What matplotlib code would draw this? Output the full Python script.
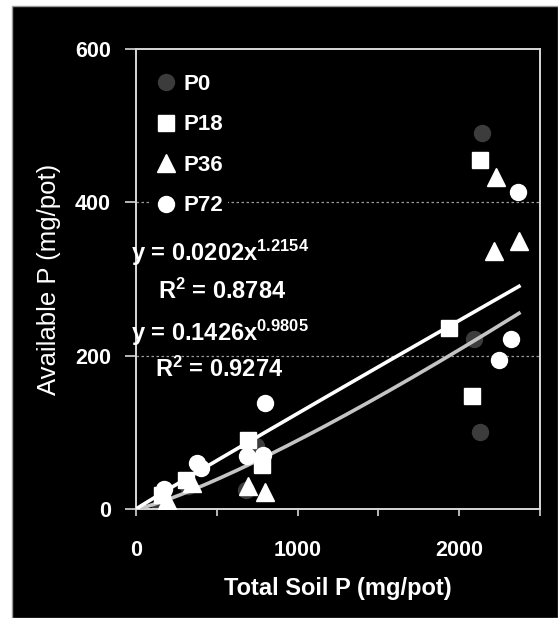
import matplotlib
matplotlib.use('Agg')

import matplotlib.pyplot as plt
import numpy as np
from matplotlib.patches import Rectangle

plt.rcParams['font.family'] = ['Liberation Sans', 'DejaVu Sans']
plt.rcParams['mathtext.default'] = 'regular'

# total soil P vs available P, per treatment
p0_x = [150, 320, 680, 745, 2089, 2140, 2130]
p0_y = [3, 30, 25, 82, 222, 491, 100]
p18_x = [160, 310, 695, 778, 1938, 2130, 2080]
p18_y = [18, 38, 90, 58, 236, 455, 148]
p36_x = [190, 345, 690, 800, 2227, 2217, 2370]
p36_y = [12, 34, 30, 22, 433, 336, 350]
p72_x = [172, 376, 405, 685, 787, 797, 2246, 2322, 2363]
p72_y = [26, 60, 54, 69, 71, 138, 194, 222, 413]

# power trendlines y = a * x^b
fit_a = [0.0202, 0.1426]
fit_b = [1.2154, 0.9805]
fit_r2 = [0.8784, 0.9274]
fit_colors = ['#c4c4c4', 'white']

fig = plt.figure(figsize=(5.58, 6.18), dpi=100, facecolor='white')
fig.patches.append(Rectangle((12 / 558, 0), 1 - 12 / 558, 1 - 6 / 618,
                             transform=fig.transFigure, facecolor='black',
                             edgecolor='#9a9a9a', linewidth=1, zorder=-10))

ax = fig.add_axes([136 / 558, 1 - 509 / 618, 404 / 558, 460 / 618])
ax.set_facecolor('black')

xmax = max(p0_x + p18_x + p36_x + p72_x)
xs = np.linspace(0, xmax, 200)
for a, b, c in zip(fit_a, fit_b, fit_colors):
    ax.plot(xs, a * xs ** b, color=c, linewidth=2.6, zorder=3)

ms = 11.5
ax.plot(p0_x, p0_y, 'o', color='#3c3c3c', markersize=ms, label='P0', zorder=2)
ax.plot(p18_x, p18_y, 's', color='white', markersize=ms - 0.5, label='P18', zorder=4)
ax.plot(p36_x, p36_y, '^', color='white', markersize=ms + 1, label='P36', zorder=4)
ax.plot(p72_x, p72_y, 'o', color='white', markersize=ms, label='P72', zorder=4)

ax.set_xlim(0, 2500)
ax.set_ylim(0, 600)
ax.set_xticks([0, 1000, 2000])
ax.set_xticks([500, 1500, 2500], minor=True)
ax.set_yticks([0, 200, 400, 600])
for y in [200, 400]:
    ax.axhline(y, color='#9a9a9a', linestyle=(0, (2, 2)), linewidth=0.9, zorder=1)

for s in ax.spines.values():
    s.set_color('#d8d8d8')
    s.set_linewidth(1.4)

ax.tick_params(axis='x', which='both', direction='out', length=5, width=1.2,
               color='#d8d8d8', pad=17)
ax.tick_params(axis='y', direction='out', length=8, width=1.2,
               color='#d8d8d8', pad=10)
for lab in ax.get_xticklabels() + ax.get_yticklabels():
    lab.set_color('white')
    lab.set_fontsize(15.5)
    lab.set_fontweight('bold')

ax.set_xlabel('Total Soil P (mg/pot)', color='white', fontsize=17,
              fontweight='bold', labelpad=12)
ax.set_ylabel('Available P (mg/pot)', color='white', fontsize=18.5, labelpad=10)

leg = ax.legend(loc='upper left', bbox_to_anchor=(0.01, 0.98), frameon=True,
                facecolor='black', edgecolor='none', framealpha=1,
                labelspacing=0.88, handlelength=0.9, handletextpad=0.35,
                borderpad=0.2, fontsize=16, labelcolor='white')
for t in leg.get_texts():
    t.set_fontweight('bold')

eq_style = dict(color='white', fontsize=17, fontweight='bold', va='center', zorder=5)
ax.text(-0.012, 0.557, 'y = %.4fx$^{%.4f}$' % (fit_a[0], fit_b[0]),
        transform=ax.transAxes, **eq_style)
ax.text(0.055, 0.474, 'R$^{2}$ = %.4f' % fit_r2[0], transform=ax.transAxes, **eq_style)
ax.text(-0.012, 0.383, 'y = %.4fx$^{%.4f}$' % (fit_a[1], fit_b[1]),
        transform=ax.transAxes, **eq_style)
ax.text(0.048, 0.304, 'R$^{2}$ = %.4f' % fit_r2[1], transform=ax.transAxes, **eq_style)

plt.savefig('out.png', dpi=100, facecolor=fig.get_facecolor())
plt.close()
